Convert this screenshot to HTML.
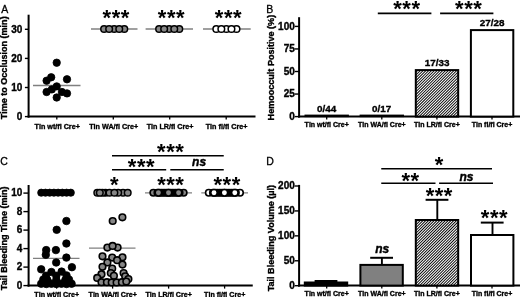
<!DOCTYPE html>
<html><head><meta charset="utf-8"><title>Figure</title>
<style>
html,body{margin:0;padding:0;background:#fff;}
svg{display:block;font-family:'Liberation Sans', Arial, sans-serif;filter:blur(0.35px);}
</style></head><body>
<svg width="520" height="297" viewBox="0 0 520 297">
<defs>

</defs>
<rect width="520" height="297" fill="#fff"/>
<line x1="28.60" y1="14.70" x2="28.60" y2="117.60" stroke="#000" stroke-width="2.0"/>
<line x1="27.60" y1="116.60" x2="255.50" y2="116.60" stroke="#000" stroke-width="2.0"/>
<line x1="24.90" y1="116.60" x2="28.60" y2="116.60" stroke="#000" stroke-width="1.4"/>
<text x="22.30" y="119.90" font-size="10" font-weight="bold" font-style="normal" text-anchor="end" stroke="#000" stroke-width="0.35">0</text>
<line x1="24.90" y1="87.50" x2="28.60" y2="87.50" stroke="#000" stroke-width="1.4"/>
<text x="22.30" y="90.80" font-size="10" font-weight="bold" font-style="normal" text-anchor="end" stroke="#000" stroke-width="0.35">10</text>
<line x1="24.90" y1="58.40" x2="28.60" y2="58.40" stroke="#000" stroke-width="1.4"/>
<text x="22.30" y="61.70" font-size="10" font-weight="bold" font-style="normal" text-anchor="end" stroke="#000" stroke-width="0.35">20</text>
<line x1="24.90" y1="29.30" x2="28.60" y2="29.30" stroke="#000" stroke-width="1.4"/>
<text x="22.30" y="32.60" font-size="10" font-weight="bold" font-style="normal" text-anchor="end" stroke="#000" stroke-width="0.35">30</text>
<line x1="56.80" y1="116.60" x2="56.80" y2="119.60" stroke="#000" stroke-width="1.3"/>
<text x="57.20" y="129.00" font-size="7.2" font-weight="bold" font-style="normal" text-anchor="middle" stroke="#000" stroke-width="0.35">Tln wt/fl Cre+</text>
<line x1="113.30" y1="116.60" x2="113.30" y2="119.60" stroke="#000" stroke-width="1.3"/>
<text x="113.70" y="129.00" font-size="7.2" font-weight="bold" font-style="normal" text-anchor="middle" stroke="#000" stroke-width="0.35">Tln WA/fl Cre+</text>
<line x1="169.70" y1="116.60" x2="169.70" y2="119.60" stroke="#000" stroke-width="1.3"/>
<text x="170.10" y="129.00" font-size="7.2" font-weight="bold" font-style="normal" text-anchor="middle" stroke="#000" stroke-width="0.35">Tln LR/fl Cre+</text>
<line x1="226.20" y1="116.60" x2="226.20" y2="119.60" stroke="#000" stroke-width="1.3"/>
<text x="226.60" y="129.00" font-size="7.2" font-weight="bold" font-style="normal" text-anchor="middle" stroke="#000" stroke-width="0.35">Tln fl/fl Cre+</text>
<text x="6.90" y="67.80" font-size="9.05" font-weight="bold" font-style="normal" text-anchor="middle" transform="rotate(-90 6.90 67.80)" stroke="#000" stroke-width="0.35">Time to Occlusion (min)</text>
<text x="1.20" y="12.60" font-size="10.5" font-weight="normal" font-style="normal" text-anchor="start" stroke="#000" stroke-width="0.3">A</text>
<line x1="33.00" y1="85.50" x2="80.50" y2="85.50" stroke="#808080" stroke-width="1.3"/>
<line x1="91.00" y1="29.00" x2="137.50" y2="29.00" stroke="#808080" stroke-width="1.3"/>
<line x1="145.60" y1="29.00" x2="193.00" y2="29.00" stroke="#808080" stroke-width="1.3"/>
<line x1="203.00" y1="29.00" x2="250.70" y2="29.00" stroke="#808080" stroke-width="1.3"/>
<circle cx="56.70" cy="62.70" r="3.7" fill="#000" stroke="#000" stroke-width="0.8"/>
<circle cx="51.20" cy="77.30" r="3.7" fill="#000" stroke="#000" stroke-width="0.8"/>
<circle cx="46.60" cy="80.70" r="3.7" fill="#000" stroke="#000" stroke-width="0.8"/>
<circle cx="67.00" cy="79.30" r="3.7" fill="#000" stroke="#000" stroke-width="0.8"/>
<circle cx="56.70" cy="86.40" r="3.7" fill="#000" stroke="#000" stroke-width="0.8"/>
<circle cx="51.80" cy="89.40" r="3.7" fill="#000" stroke="#000" stroke-width="0.8"/>
<circle cx="46.60" cy="92.00" r="3.7" fill="#000" stroke="#000" stroke-width="0.8"/>
<circle cx="61.90" cy="92.00" r="3.7" fill="#000" stroke="#000" stroke-width="0.8"/>
<circle cx="67.00" cy="93.40" r="3.7" fill="#000" stroke="#000" stroke-width="0.8"/>
<circle cx="56.70" cy="97.50" r="3.7" fill="#000" stroke="#000" stroke-width="0.8"/>
<circle cx="104.10" cy="29.00" r="3.3" fill="#868686" stroke="#000" stroke-width="1.5"/>
<circle cx="114.20" cy="29.00" r="3.3" fill="#868686" stroke="#000" stroke-width="1.5"/>
<circle cx="124.30" cy="29.00" r="3.3" fill="#868686" stroke="#000" stroke-width="1.5"/>
<circle cx="109.15" cy="29.00" r="3.3" fill="#868686" stroke="#000" stroke-width="1.5"/>
<circle cx="119.25" cy="29.00" r="3.3" fill="#868686" stroke="#000" stroke-width="1.5"/>
<circle cx="159.10" cy="29.00" r="3.3" fill="#868686" stroke="#000" stroke-width="1.5"/>
<circle cx="169.20" cy="29.00" r="3.3" fill="#868686" stroke="#000" stroke-width="1.5"/>
<circle cx="179.30" cy="29.00" r="3.3" fill="#868686" stroke="#000" stroke-width="1.5"/>
<circle cx="164.15" cy="29.00" r="3.3" fill="#868686" stroke="#000" stroke-width="1.5"/>
<circle cx="174.25" cy="29.00" r="3.3" fill="#868686" stroke="#000" stroke-width="1.5"/>
<circle cx="216.30" cy="29.00" r="3.3" fill="#fff" stroke="#000" stroke-width="1.5"/>
<circle cx="226.40" cy="29.00" r="3.3" fill="#fff" stroke="#000" stroke-width="1.5"/>
<circle cx="236.50" cy="29.00" r="3.3" fill="#fff" stroke="#000" stroke-width="1.5"/>
<circle cx="221.35" cy="29.00" r="3.3" fill="#fff" stroke="#000" stroke-width="1.5"/>
<circle cx="231.45" cy="29.00" r="3.3" fill="#fff" stroke="#000" stroke-width="1.5"/>
<text x="116.20" y="25.10" font-size="22" font-weight="bold" font-style="normal" text-anchor="middle" letter-spacing="0.55">***</text>
<text x="171.50" y="25.10" font-size="22" font-weight="bold" font-style="normal" text-anchor="middle" letter-spacing="0.55">***</text>
<text x="228.50" y="25.10" font-size="22" font-weight="bold" font-style="normal" text-anchor="middle" letter-spacing="0.55">***</text>
<line x1="299.10" y1="17.20" x2="299.10" y2="117.60" stroke="#000" stroke-width="2.0"/>
<line x1="298.10" y1="116.60" x2="520.00" y2="116.60" stroke="#000" stroke-width="2.0"/>
<line x1="294.70" y1="116.60" x2="299.10" y2="116.60" stroke="#000" stroke-width="1.4"/>
<text x="294.80" y="119.90" font-size="10" font-weight="bold" font-style="normal" text-anchor="end" stroke="#000" stroke-width="0.35">0</text>
<line x1="294.70" y1="94.05" x2="299.10" y2="94.05" stroke="#000" stroke-width="1.4"/>
<text x="294.80" y="97.35" font-size="10" font-weight="bold" font-style="normal" text-anchor="end" stroke="#000" stroke-width="0.35">25</text>
<line x1="294.70" y1="71.50" x2="299.10" y2="71.50" stroke="#000" stroke-width="1.4"/>
<text x="294.80" y="74.80" font-size="10" font-weight="bold" font-style="normal" text-anchor="end" stroke="#000" stroke-width="0.35">50</text>
<line x1="294.70" y1="48.95" x2="299.10" y2="48.95" stroke="#000" stroke-width="1.4"/>
<text x="294.80" y="52.25" font-size="10" font-weight="bold" font-style="normal" text-anchor="end" stroke="#000" stroke-width="0.35">75</text>
<line x1="294.70" y1="26.40" x2="299.10" y2="26.40" stroke="#000" stroke-width="1.4"/>
<text x="294.80" y="29.70" font-size="10" font-weight="bold" font-style="normal" text-anchor="end" stroke="#000" stroke-width="0.35">100</text>
<line x1="326.70" y1="116.60" x2="326.70" y2="119.60" stroke="#000" stroke-width="1.3"/>
<text x="326.70" y="127.00" font-size="7.0" font-weight="bold" font-style="normal" text-anchor="middle" stroke="#000" stroke-width="0.35">Tln wt/fl Cre+</text>
<line x1="381.80" y1="116.60" x2="381.80" y2="119.60" stroke="#000" stroke-width="1.3"/>
<text x="381.80" y="127.00" font-size="7.0" font-weight="bold" font-style="normal" text-anchor="middle" stroke="#000" stroke-width="0.35">Tln WA/fl Cre+</text>
<line x1="436.90" y1="116.60" x2="436.90" y2="119.60" stroke="#000" stroke-width="1.3"/>
<text x="436.90" y="127.00" font-size="7.0" font-weight="bold" font-style="normal" text-anchor="middle" stroke="#000" stroke-width="0.35">Tln LR/fl Cre+</text>
<line x1="492.00" y1="116.60" x2="492.00" y2="119.60" stroke="#000" stroke-width="1.3"/>
<text x="492.00" y="127.00" font-size="7.0" font-weight="bold" font-style="normal" text-anchor="middle" stroke="#000" stroke-width="0.35">Tln fl/fl Cre+</text>
<text x="274.10" y="67.60" font-size="9.05" font-weight="bold" font-style="normal" text-anchor="middle" transform="rotate(-90 274.10 67.60)" stroke="#000" stroke-width="0.35">Hemooccult Positive (%)</text>
<text x="266.20" y="12.80" font-size="10.5" font-weight="normal" font-style="normal" text-anchor="start" stroke="#000" stroke-width="0.3">B</text>
<rect x="304.50" y="114.60" width="44.4" height="2.5" fill="#000"/>
<rect x="359.60" y="114.60" width="44.4" height="2.5" fill="#000"/>
<clipPath id="hc1"><rect x="415.80" y="70.10" width="42.40" height="46.50"/></clipPath>
<rect x="415.80" y="70.10" width="42.40" height="46.50" fill="#000"/>
<path clip-path="url(#hc1)" d="M367.30 116.60L413.80 70.10M370.10 116.60L416.60 70.10M372.90 116.60L419.40 70.10M375.70 116.60L422.20 70.10M378.50 116.60L425.00 70.10M381.30 116.60L427.80 70.10M384.10 116.60L430.60 70.10M386.90 116.60L433.40 70.10M389.70 116.60L436.20 70.10M392.50 116.60L439.00 70.10M395.30 116.60L441.80 70.10M398.10 116.60L444.60 70.10M400.90 116.60L447.40 70.10M403.70 116.60L450.20 70.10M406.50 116.60L453.00 70.10M409.30 116.60L455.80 70.10M412.10 116.60L458.60 70.10M414.90 116.60L461.40 70.10M417.70 116.60L464.20 70.10M420.50 116.60L467.00 70.10M423.30 116.60L469.80 70.10M426.10 116.60L472.60 70.10M428.90 116.60L475.40 70.10M431.70 116.60L478.20 70.10M434.50 116.60L481.00 70.10M437.30 116.60L483.80 70.10M440.10 116.60L486.60 70.10M442.90 116.60L489.40 70.10M445.70 116.60L492.20 70.10M448.50 116.60L495.00 70.10M451.30 116.60L497.80 70.10M454.10 116.60L500.60 70.10M456.90 116.60L503.40 70.10M459.70 116.60L506.20 70.10" stroke="#fff" stroke-width="1.05" fill="none"/>
<rect x="415.80" y="70.10" width="42.40" height="46.50" fill="none" stroke="#000" stroke-width="2"/>
<rect x="470.90" y="30.1" width="42.4" height="86.50" fill="#fff" stroke="#000" stroke-width="2"/>
<text x="326.70" y="111.90" font-size="9.9" font-weight="bold" font-style="normal" text-anchor="middle" stroke="#000" stroke-width="0.35">0/44</text>
<text x="381.70" y="111.90" font-size="9.9" font-weight="bold" font-style="normal" text-anchor="middle" stroke="#000" stroke-width="0.35">0/17</text>
<text x="437.20" y="66.40" font-size="9.9" font-weight="bold" font-style="normal" text-anchor="middle" stroke="#000" stroke-width="0.35">17/33</text>
<text x="492.20" y="25.90" font-size="9.9" font-weight="bold" font-style="normal" text-anchor="middle" stroke="#000" stroke-width="0.35">27/28</text>
<line x1="377.80" y1="13.40" x2="431.40" y2="13.40" stroke="#000" stroke-width="1.6"/>
<line x1="440.10" y1="13.40" x2="493.40" y2="13.40" stroke="#000" stroke-width="1.6"/>
<text x="406.90" y="15.50" font-size="22" font-weight="bold" font-style="normal" text-anchor="middle" letter-spacing="0.55">***</text>
<text x="468.70" y="15.50" font-size="22" font-weight="bold" font-style="normal" text-anchor="middle" letter-spacing="0.55">***</text>
<line x1="28.60" y1="185.00" x2="28.60" y2="286.60" stroke="#000" stroke-width="2.0"/>
<line x1="27.60" y1="285.60" x2="252.75" y2="285.60" stroke="#000" stroke-width="2.0"/>
<line x1="23.40" y1="285.60" x2="28.60" y2="285.60" stroke="#000" stroke-width="1.4"/>
<text x="22.30" y="288.90" font-size="10" font-weight="bold" font-style="normal" text-anchor="end" stroke="#000" stroke-width="0.35">0</text>
<line x1="23.40" y1="267.10" x2="28.60" y2="267.10" stroke="#000" stroke-width="1.4"/>
<text x="22.30" y="270.40" font-size="10" font-weight="bold" font-style="normal" text-anchor="end" stroke="#000" stroke-width="0.35">2</text>
<line x1="23.40" y1="248.60" x2="28.60" y2="248.60" stroke="#000" stroke-width="1.4"/>
<text x="22.30" y="251.90" font-size="10" font-weight="bold" font-style="normal" text-anchor="end" stroke="#000" stroke-width="0.35">4</text>
<line x1="23.40" y1="230.10" x2="28.60" y2="230.10" stroke="#000" stroke-width="1.4"/>
<text x="22.30" y="233.40" font-size="10" font-weight="bold" font-style="normal" text-anchor="end" stroke="#000" stroke-width="0.35">6</text>
<line x1="23.40" y1="211.60" x2="28.60" y2="211.60" stroke="#000" stroke-width="1.4"/>
<text x="22.30" y="214.90" font-size="10" font-weight="bold" font-style="normal" text-anchor="end" stroke="#000" stroke-width="0.35">8</text>
<line x1="23.40" y1="193.10" x2="28.60" y2="193.10" stroke="#000" stroke-width="1.4"/>
<text x="22.30" y="196.40" font-size="10" font-weight="bold" font-style="normal" text-anchor="end" stroke="#000" stroke-width="0.35">10</text>
<line x1="56.60" y1="285.60" x2="56.60" y2="288.60" stroke="#000" stroke-width="1.3"/>
<text x="56.70" y="297.20" font-size="7.1" font-weight="bold" font-style="normal" text-anchor="middle" stroke="#000" stroke-width="0.35">Tln wt/fl Cre+</text>
<line x1="112.60" y1="285.60" x2="112.60" y2="288.60" stroke="#000" stroke-width="1.3"/>
<text x="112.70" y="297.20" font-size="7.1" font-weight="bold" font-style="normal" text-anchor="middle" stroke="#000" stroke-width="0.35">Tln WA/fl Cre+</text>
<line x1="168.60" y1="285.60" x2="168.60" y2="288.60" stroke="#000" stroke-width="1.3"/>
<text x="168.70" y="297.20" font-size="7.1" font-weight="bold" font-style="normal" text-anchor="middle" stroke="#000" stroke-width="0.35">Tln LR/fl Cre+</text>
<line x1="224.60" y1="285.60" x2="224.60" y2="288.60" stroke="#000" stroke-width="1.3"/>
<text x="224.70" y="297.20" font-size="7.1" font-weight="bold" font-style="normal" text-anchor="middle" stroke="#000" stroke-width="0.35">Tln fl/fl Cre+</text>
<text x="6.90" y="238.30" font-size="9.05" font-weight="bold" font-style="normal" text-anchor="middle" transform="rotate(-90 6.90 238.30)" stroke="#000" stroke-width="0.35">Tail Bleeding Time (min)</text>
<text x="0.20" y="165.10" font-size="10.5" font-weight="normal" font-style="normal" text-anchor="start" stroke="#000" stroke-width="0.3">C</text>
<line x1="33.00" y1="258.30" x2="79.50" y2="258.30" stroke="#808080" stroke-width="1.3"/>
<line x1="89.00" y1="248.10" x2="135.50" y2="248.10" stroke="#808080" stroke-width="1.3"/>
<line x1="145.00" y1="192.80" x2="192.00" y2="192.80" stroke="#808080" stroke-width="1.3"/>
<line x1="201.30" y1="192.80" x2="248.00" y2="192.80" stroke="#808080" stroke-width="1.3"/>
<circle cx="41.25" cy="192.70" r="3.6" fill="#000" stroke="#000" stroke-width="0.8"/>
<circle cx="45.47" cy="192.70" r="3.6" fill="#000" stroke="#000" stroke-width="0.8"/>
<circle cx="49.69" cy="192.70" r="3.6" fill="#000" stroke="#000" stroke-width="0.8"/>
<circle cx="53.91" cy="192.70" r="3.6" fill="#000" stroke="#000" stroke-width="0.8"/>
<circle cx="58.13" cy="192.70" r="3.6" fill="#000" stroke="#000" stroke-width="0.8"/>
<circle cx="62.35" cy="192.70" r="3.6" fill="#000" stroke="#000" stroke-width="0.8"/>
<circle cx="66.57" cy="192.70" r="3.6" fill="#000" stroke="#000" stroke-width="0.8"/>
<circle cx="70.79" cy="192.70" r="3.6" fill="#000" stroke="#000" stroke-width="0.8"/>
<circle cx="66.40" cy="221.00" r="3.75" fill="#000" stroke="#000" stroke-width="0.8"/>
<circle cx="56.70" cy="229.80" r="3.75" fill="#000" stroke="#000" stroke-width="0.8"/>
<circle cx="66.40" cy="243.50" r="3.75" fill="#000" stroke="#000" stroke-width="0.8"/>
<circle cx="55.90" cy="250.10" r="3.75" fill="#000" stroke="#000" stroke-width="0.8"/>
<circle cx="46.20" cy="250.10" r="3.75" fill="#000" stroke="#000" stroke-width="0.8"/>
<circle cx="45.80" cy="254.80" r="3.75" fill="#000" stroke="#000" stroke-width="0.8"/>
<circle cx="66.40" cy="257.60" r="3.75" fill="#000" stroke="#000" stroke-width="0.8"/>
<circle cx="56.20" cy="262.50" r="3.75" fill="#000" stroke="#000" stroke-width="0.8"/>
<circle cx="71.90" cy="267.20" r="3.75" fill="#000" stroke="#000" stroke-width="0.8"/>
<circle cx="41.20" cy="269.30" r="3.75" fill="#000" stroke="#000" stroke-width="0.8"/>
<circle cx="51.40" cy="272.00" r="3.75" fill="#000" stroke="#000" stroke-width="0.8"/>
<circle cx="61.60" cy="271.60" r="3.75" fill="#000" stroke="#000" stroke-width="0.8"/>
<circle cx="46.00" cy="275.70" r="3.75" fill="#000" stroke="#000" stroke-width="0.8"/>
<circle cx="56.30" cy="275.80" r="3.75" fill="#000" stroke="#000" stroke-width="0.8"/>
<circle cx="66.50" cy="275.40" r="3.75" fill="#000" stroke="#000" stroke-width="0.8"/>
<circle cx="43.30" cy="279.60" r="3.75" fill="#000" stroke="#000" stroke-width="0.8"/>
<circle cx="47.30" cy="279.90" r="3.75" fill="#000" stroke="#000" stroke-width="0.8"/>
<circle cx="56.30" cy="280.00" r="3.75" fill="#000" stroke="#000" stroke-width="0.8"/>
<circle cx="65.40" cy="279.90" r="3.75" fill="#000" stroke="#000" stroke-width="0.8"/>
<circle cx="69.00" cy="279.60" r="3.75" fill="#000" stroke="#000" stroke-width="0.8"/>
<circle cx="41.20" cy="283.70" r="3.75" fill="#000" stroke="#000" stroke-width="0.8"/>
<circle cx="46.30" cy="284.00" r="3.75" fill="#000" stroke="#000" stroke-width="0.8"/>
<circle cx="51.40" cy="283.70" r="3.75" fill="#000" stroke="#000" stroke-width="0.8"/>
<circle cx="56.30" cy="284.00" r="3.75" fill="#000" stroke="#000" stroke-width="0.8"/>
<circle cx="61.40" cy="283.70" r="3.75" fill="#000" stroke="#000" stroke-width="0.8"/>
<circle cx="66.50" cy="284.00" r="3.75" fill="#000" stroke="#000" stroke-width="0.8"/>
<circle cx="71.60" cy="283.70" r="3.75" fill="#000" stroke="#000" stroke-width="0.8"/>
<circle cx="105.50" cy="192.70" r="3.3" fill="#000" stroke="#000" stroke-width="1.5"/>
<circle cx="97.30" cy="192.70" r="3.3" fill="#868686" stroke="#000" stroke-width="1.5"/>
<circle cx="102.40" cy="192.70" r="3.3" fill="#868686" stroke="#000" stroke-width="1.5"/>
<circle cx="123.00" cy="192.70" r="3.3" fill="#868686" stroke="#000" stroke-width="1.5"/>
<circle cx="118.20" cy="192.70" r="3.3" fill="#868686" stroke="#000" stroke-width="1.5"/>
<circle cx="109.50" cy="192.70" r="3.3" fill="#868686" stroke="#000" stroke-width="1.5"/>
<circle cx="99.80" cy="192.70" r="3.3" fill="#868686" stroke="#000" stroke-width="1.5"/>
<circle cx="114.40" cy="192.70" r="3.3" fill="#868686" stroke="#000" stroke-width="1.5"/>
<circle cx="127.70" cy="192.70" r="3.3" fill="#868686" stroke="#000" stroke-width="1.5"/>
<circle cx="112.70" cy="221.00" r="3.3" fill="#868686" stroke="#000" stroke-width="1.6"/>
<circle cx="122.40" cy="217.30" r="3.3" fill="#868686" stroke="#000" stroke-width="1.6"/>
<circle cx="107.40" cy="247.60" r="3.3" fill="#868686" stroke="#000" stroke-width="1.6"/>
<circle cx="117.60" cy="247.60" r="3.3" fill="#868686" stroke="#000" stroke-width="1.6"/>
<circle cx="112.60" cy="245.90" r="3.3" fill="#868686" stroke="#000" stroke-width="1.6"/>
<circle cx="102.50" cy="256.30" r="3.3" fill="#868686" stroke="#000" stroke-width="1.6"/>
<circle cx="112.20" cy="257.60" r="3.3" fill="#868686" stroke="#000" stroke-width="1.6"/>
<circle cx="122.50" cy="257.30" r="3.3" fill="#868686" stroke="#000" stroke-width="1.6"/>
<circle cx="107.40" cy="262.40" r="3.3" fill="#868686" stroke="#000" stroke-width="1.6"/>
<circle cx="117.10" cy="260.20" r="3.3" fill="#868686" stroke="#000" stroke-width="1.6"/>
<circle cx="122.50" cy="264.60" r="3.3" fill="#868686" stroke="#000" stroke-width="1.6"/>
<circle cx="102.50" cy="266.80" r="3.3" fill="#868686" stroke="#000" stroke-width="1.6"/>
<circle cx="112.20" cy="268.50" r="3.3" fill="#868686" stroke="#000" stroke-width="1.6"/>
<circle cx="110.80" cy="273.00" r="3.3" fill="#868686" stroke="#000" stroke-width="1.6"/>
<circle cx="101.50" cy="274.20" r="3.3" fill="#868686" stroke="#000" stroke-width="1.6"/>
<circle cx="113.90" cy="275.80" r="3.3" fill="#868686" stroke="#000" stroke-width="1.6"/>
<circle cx="123.60" cy="273.10" r="3.3" fill="#868686" stroke="#000" stroke-width="1.6"/>
<circle cx="125.20" cy="276.30" r="3.3" fill="#868686" stroke="#000" stroke-width="1.6"/>
<circle cx="97.20" cy="277.90" r="3.3" fill="#868686" stroke="#000" stroke-width="1.6"/>
<circle cx="128.40" cy="279.00" r="3.3" fill="#868686" stroke="#000" stroke-width="1.6"/>
<circle cx="101.50" cy="282.20" r="3.3" fill="#868686" stroke="#000" stroke-width="1.6"/>
<circle cx="106.90" cy="282.20" r="3.3" fill="#868686" stroke="#000" stroke-width="1.6"/>
<circle cx="111.70" cy="282.40" r="3.3" fill="#868686" stroke="#000" stroke-width="1.6"/>
<circle cx="116.60" cy="282.40" r="3.3" fill="#868686" stroke="#000" stroke-width="1.6"/>
<circle cx="121.90" cy="282.20" r="3.3" fill="#868686" stroke="#000" stroke-width="1.6"/>
<circle cx="126.30" cy="281.50" r="3.3" fill="#868686" stroke="#000" stroke-width="1.6"/>
<circle cx="153.35" cy="192.70" r="3.25" fill="#868686" stroke="#000" stroke-width="1.6"/>
<circle cx="183.65" cy="192.70" r="3.25" fill="#868686" stroke="#000" stroke-width="1.6"/>
<circle cx="157.46" cy="192.70" r="3.25" fill="#000" stroke="#000" stroke-width="1.6"/>
<circle cx="159.67" cy="192.70" r="3.25" fill="#000" stroke="#000" stroke-width="1.6"/>
<circle cx="161.88" cy="192.70" r="3.25" fill="#000" stroke="#000" stroke-width="1.6"/>
<circle cx="164.08" cy="192.70" r="3.25" fill="#000" stroke="#000" stroke-width="1.6"/>
<circle cx="166.29" cy="192.70" r="3.25" fill="#000" stroke="#000" stroke-width="1.6"/>
<circle cx="168.50" cy="192.70" r="3.25" fill="#000" stroke="#000" stroke-width="1.6"/>
<circle cx="170.71" cy="192.70" r="3.25" fill="#000" stroke="#000" stroke-width="1.6"/>
<circle cx="172.92" cy="192.70" r="3.25" fill="#000" stroke="#000" stroke-width="1.6"/>
<circle cx="175.12" cy="192.70" r="3.25" fill="#000" stroke="#000" stroke-width="1.6"/>
<circle cx="177.33" cy="192.70" r="3.25" fill="#000" stroke="#000" stroke-width="1.6"/>
<circle cx="179.54" cy="192.70" r="3.25" fill="#000" stroke="#000" stroke-width="1.6"/>
<circle cx="158.40" cy="192.70" r="3.25" fill="#868686" stroke="#000" stroke-width="1.6"/>
<circle cx="168.50" cy="192.70" r="3.25" fill="#868686" stroke="#000" stroke-width="1.6"/>
<circle cx="178.60" cy="192.70" r="3.25" fill="#868686" stroke="#000" stroke-width="1.6"/>
<circle cx="208.80" cy="192.70" r="3.25" fill="#fff" stroke="#000" stroke-width="1.6"/>
<circle cx="240.00" cy="192.70" r="3.25" fill="#fff" stroke="#000" stroke-width="1.6"/>
<circle cx="212.98" cy="192.70" r="3.25" fill="#000" stroke="#000" stroke-width="1.6"/>
<circle cx="215.27" cy="192.70" r="3.25" fill="#000" stroke="#000" stroke-width="1.6"/>
<circle cx="217.55" cy="192.70" r="3.25" fill="#000" stroke="#000" stroke-width="1.6"/>
<circle cx="219.83" cy="192.70" r="3.25" fill="#000" stroke="#000" stroke-width="1.6"/>
<circle cx="222.12" cy="192.70" r="3.25" fill="#000" stroke="#000" stroke-width="1.6"/>
<circle cx="224.40" cy="192.70" r="3.25" fill="#000" stroke="#000" stroke-width="1.6"/>
<circle cx="226.68" cy="192.70" r="3.25" fill="#000" stroke="#000" stroke-width="1.6"/>
<circle cx="228.97" cy="192.70" r="3.25" fill="#000" stroke="#000" stroke-width="1.6"/>
<circle cx="231.25" cy="192.70" r="3.25" fill="#000" stroke="#000" stroke-width="1.6"/>
<circle cx="233.53" cy="192.70" r="3.25" fill="#000" stroke="#000" stroke-width="1.6"/>
<circle cx="235.82" cy="192.70" r="3.25" fill="#000" stroke="#000" stroke-width="1.6"/>
<circle cx="214.00" cy="192.70" r="3.25" fill="#fff" stroke="#000" stroke-width="1.6"/>
<circle cx="224.40" cy="192.70" r="3.25" fill="#fff" stroke="#000" stroke-width="1.6"/>
<circle cx="234.80" cy="192.70" r="3.25" fill="#fff" stroke="#000" stroke-width="1.6"/>
<line x1="112.00" y1="155.75" x2="223.75" y2="155.75" stroke="#000" stroke-width="1.6"/>
<line x1="112.00" y1="169.70" x2="166.20" y2="169.70" stroke="#000" stroke-width="1.6"/>
<line x1="170.30" y1="169.70" x2="223.75" y2="169.70" stroke="#000" stroke-width="1.6"/>
<text x="170.70" y="159.10" font-size="22" font-weight="bold" font-style="normal" text-anchor="middle" letter-spacing="0.55">***</text>
<text x="141.50" y="173.90" font-size="22" font-weight="bold" font-style="normal" text-anchor="middle" letter-spacing="0.55">***</text>
<text x="199.10" y="165.80" font-size="12" font-weight="bold" font-style="italic" text-anchor="middle" stroke="#000" stroke-width="0.4">ns</text>
<text x="114.60" y="191.50" font-size="22" font-weight="bold" font-style="normal" text-anchor="middle" letter-spacing="0.55">*</text>
<text x="170.80" y="191.50" font-size="22" font-weight="bold" font-style="normal" text-anchor="middle" letter-spacing="0.55">***</text>
<text x="227.10" y="191.50" font-size="22" font-weight="bold" font-style="normal" text-anchor="middle" letter-spacing="0.55">***</text>
<line x1="299.10" y1="184.90" x2="299.10" y2="286.60" stroke="#000" stroke-width="2.0"/>
<line x1="298.10" y1="285.60" x2="520.00" y2="285.60" stroke="#000" stroke-width="2.0"/>
<line x1="294.70" y1="285.70" x2="299.10" y2="285.70" stroke="#000" stroke-width="1.4"/>
<text x="294.80" y="289.00" font-size="10" font-weight="bold" font-style="normal" text-anchor="end" stroke="#000" stroke-width="0.35">0</text>
<line x1="294.70" y1="260.78" x2="299.10" y2="260.78" stroke="#000" stroke-width="1.4"/>
<text x="294.80" y="264.08" font-size="10" font-weight="bold" font-style="normal" text-anchor="end" stroke="#000" stroke-width="0.35">50</text>
<line x1="294.70" y1="235.85" x2="299.10" y2="235.85" stroke="#000" stroke-width="1.4"/>
<text x="294.80" y="239.15" font-size="10" font-weight="bold" font-style="normal" text-anchor="end" stroke="#000" stroke-width="0.35">100</text>
<line x1="294.70" y1="210.93" x2="299.10" y2="210.93" stroke="#000" stroke-width="1.4"/>
<text x="294.80" y="214.23" font-size="10" font-weight="bold" font-style="normal" text-anchor="end" stroke="#000" stroke-width="0.35">150</text>
<line x1="294.70" y1="186.00" x2="299.10" y2="186.00" stroke="#000" stroke-width="1.4"/>
<text x="294.80" y="189.30" font-size="10" font-weight="bold" font-style="normal" text-anchor="end" stroke="#000" stroke-width="0.35">200</text>
<line x1="326.70" y1="285.60" x2="326.70" y2="288.60" stroke="#000" stroke-width="1.3"/>
<text x="326.70" y="296.00" font-size="7.0" font-weight="bold" font-style="normal" text-anchor="middle" stroke="#000" stroke-width="0.35">Tln wt/fl Cre+</text>
<line x1="381.80" y1="285.60" x2="381.80" y2="288.60" stroke="#000" stroke-width="1.3"/>
<text x="381.80" y="296.00" font-size="7.0" font-weight="bold" font-style="normal" text-anchor="middle" stroke="#000" stroke-width="0.35">Tln WA/fl Cre+</text>
<line x1="436.90" y1="285.60" x2="436.90" y2="288.60" stroke="#000" stroke-width="1.3"/>
<text x="436.90" y="296.00" font-size="7.0" font-weight="bold" font-style="normal" text-anchor="middle" stroke="#000" stroke-width="0.35">Tln LR/fl Cre+</text>
<line x1="492.00" y1="285.60" x2="492.00" y2="288.60" stroke="#000" stroke-width="1.3"/>
<text x="492.00" y="296.00" font-size="7.0" font-weight="bold" font-style="normal" text-anchor="middle" stroke="#000" stroke-width="0.35">Tln fl/fl Cre+</text>
<text x="274.10" y="238.10" font-size="9.05" font-weight="bold" font-style="normal" text-anchor="middle" transform="rotate(-90 274.10 238.10)" stroke="#000" stroke-width="0.35">Tail Bleeding Volume (µl)</text>
<text x="266.20" y="165.10" font-size="10.5" font-weight="normal" font-style="normal" text-anchor="start" stroke="#000" stroke-width="0.3">D</text>
<line x1="326.30" y1="281.00" x2="326.30" y2="282.50" stroke="#000" stroke-width="1.9"/>
<line x1="314.60" y1="281.00" x2="337.40" y2="281.00" stroke="#000" stroke-width="2.0"/>
<rect x="304.80" y="282.50" width="42.4" height="3.10" fill="#000" stroke="#000" stroke-width="2"/>
<line x1="381.90" y1="257.80" x2="381.90" y2="264.90" stroke="#000" stroke-width="1.9"/>
<line x1="370.20" y1="257.80" x2="393.00" y2="257.80" stroke="#000" stroke-width="2.0"/>
<rect x="360.40" y="264.90" width="42.4" height="20.70" fill="#808080" stroke="#000" stroke-width="2"/>
<line x1="437.30" y1="199.80" x2="437.30" y2="220.00" stroke="#000" stroke-width="1.9"/>
<line x1="425.60" y1="199.80" x2="448.40" y2="199.80" stroke="#000" stroke-width="2.0"/>
<clipPath id="hc2"><rect x="415.80" y="220.00" width="42.40" height="65.60"/></clipPath>
<rect x="415.80" y="220.00" width="42.40" height="65.60" fill="#000"/>
<path clip-path="url(#hc2)" d="M348.20 285.60L413.80 220.00M351.00 285.60L416.60 220.00M353.80 285.60L419.40 220.00M356.60 285.60L422.20 220.00M359.40 285.60L425.00 220.00M362.20 285.60L427.80 220.00M365.00 285.60L430.60 220.00M367.80 285.60L433.40 220.00M370.60 285.60L436.20 220.00M373.40 285.60L439.00 220.00M376.20 285.60L441.80 220.00M379.00 285.60L444.60 220.00M381.80 285.60L447.40 220.00M384.60 285.60L450.20 220.00M387.40 285.60L453.00 220.00M390.20 285.60L455.80 220.00M393.00 285.60L458.60 220.00M395.80 285.60L461.40 220.00M398.60 285.60L464.20 220.00M401.40 285.60L467.00 220.00M404.20 285.60L469.80 220.00M407.00 285.60L472.60 220.00M409.80 285.60L475.40 220.00M412.60 285.60L478.20 220.00M415.40 285.60L481.00 220.00M418.20 285.60L483.80 220.00M421.00 285.60L486.60 220.00M423.80 285.60L489.40 220.00M426.60 285.60L492.20 220.00M429.40 285.60L495.00 220.00M432.20 285.60L497.80 220.00M435.00 285.60L500.60 220.00M437.80 285.60L503.40 220.00M440.60 285.60L506.20 220.00M443.40 285.60L509.00 220.00M446.20 285.60L511.80 220.00M449.00 285.60L514.60 220.00M451.80 285.60L517.40 220.00M454.60 285.60L520.20 220.00M457.40 285.60L523.00 220.00" stroke="#fff" stroke-width="1.05" fill="none"/>
<rect x="415.80" y="220.00" width="42.40" height="65.60" fill="none" stroke="#000" stroke-width="2"/>
<line x1="492.50" y1="222.60" x2="492.50" y2="235.00" stroke="#000" stroke-width="1.9"/>
<line x1="480.80" y1="222.60" x2="503.60" y2="222.60" stroke="#000" stroke-width="2.0"/>
<rect x="471.00" y="235.00" width="42.4" height="50.60" fill="#fff" stroke="#000" stroke-width="2"/>
<line x1="381.25" y1="168.75" x2="492.00" y2="168.75" stroke="#000" stroke-width="1.6"/>
<line x1="381.25" y1="183.20" x2="435.50" y2="183.20" stroke="#000" stroke-width="1.6"/>
<line x1="439.10" y1="183.20" x2="493.00" y2="183.20" stroke="#000" stroke-width="1.6"/>
<text x="439.30" y="172.45" font-size="22" font-weight="bold" font-style="normal" text-anchor="middle" letter-spacing="0.55">*</text>
<text x="410.50" y="187.50" font-size="22" font-weight="bold" font-style="normal" text-anchor="middle" letter-spacing="0.55">**</text>
<text x="466.40" y="180.50" font-size="12" font-weight="bold" font-style="italic" text-anchor="middle" stroke="#000" stroke-width="0.4">ns</text>
<text x="439.30" y="202.70" font-size="22" font-weight="bold" font-style="normal" text-anchor="middle" letter-spacing="0.55">***</text>
<text x="494.50" y="225.20" font-size="22" font-weight="bold" font-style="normal" text-anchor="middle" letter-spacing="0.55">***</text>
<text x="382.20" y="252.90" font-size="12" font-weight="bold" font-style="italic" text-anchor="middle" stroke="#000" stroke-width="0.4">ns</text>
</svg>
</body></html>
